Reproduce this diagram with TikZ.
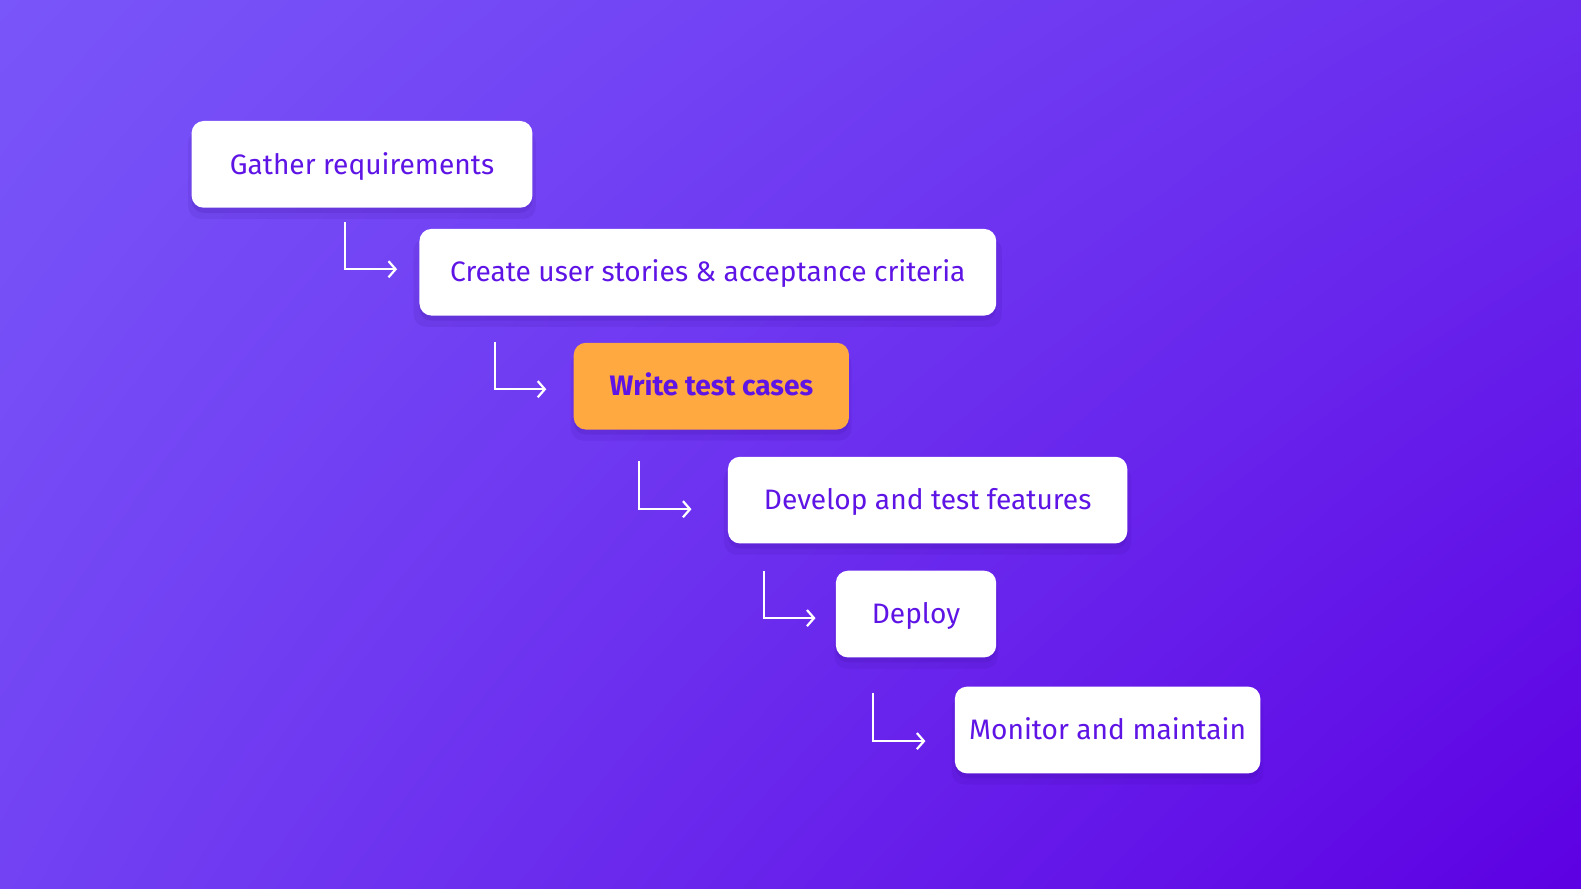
\documentclass[tikz,border=0pt]{standalone}
\usepackage{fontspec}
\setmainfont{Fira Sans}
\usetikzlibrary{arrows.meta,shadows,calc,shadings}
\definecolor{bgTL}{HTML}{7956F9}
\definecolor{bgTR}{HTML}{6A2DEE}
\definecolor{bgBL}{HTML}{7242F3}
\definecolor{bgBR}{HTML}{5D00E3}
\definecolor{txt}{HTML}{5F14E6}
\definecolor{orng}{HTML}{FFA940}
\definecolor{shd}{HTML}{3A0A90}
\tikzset{
  stepbox/.style={draw=none, fill=white, rounded corners=12pt, minimum height=86pt,
    inner sep=0pt, text=txt, font=\fontsize{27.9}{32}\selectfont,
    text height=19.2pt, text depth=0pt,
    general shadow={fill=shd, opacity=0.10, shadow xshift=0pt, shadow yshift=-10pt, shadow scale=1.02},
    general shadow={fill=shd, opacity=0.14, shadow xshift=0pt, shadow yshift=-5pt}},
  hibox/.style={stepbox, fill=orng, font=\fontsize{27.9}{32}\selectfont\bfseries},
  flow/.style={draw=white, line width=2.2pt, -{Straight Barb[length=7pt,width=16pt]}}
}
\begin{document}
\begin{tikzpicture}[x=1pt,y=-1pt]
\useasboundingbox (0,0) rectangle (1568,880.7);
\shade[upper left=bgTL, upper right=bgTR, lower left=bgBL, lower right=bgBR] (0,0) rectangle (1568,880.7);

\node[stepbox, minimum width=338pt] (a) at (359,163) {Gather requirements};
\node[stepbox, minimum width=572pt] (b) at (702,270) {Create user stories \& acceptance criteria};
\node[hibox, minimum width=273pt] (c) at (705.5,383) {Write test cases};
\node[stepbox, minimum width=396pt] (d) at (920,496) {Develop and test features};
\node[stepbox, minimum width=159pt] (e) at (908.5,609) {Deploy};
\node[stepbox, minimum width=303pt] (f) at (1098.5,724) {Monitor and maintain};

\coordinate (s1) at (342,220);
\coordinate (s2) at (491,339);
\coordinate (s3) at (634,457);
\coordinate (s4) at (758,566);
\coordinate (s5) at (866,687);

\draw[flow] (s1) |- ($(b.west)+(-22,-3)$);
\draw[flow] (s2) |- ($(c.west)+(-27,3)$);
\draw[flow] (s3) |- ($(d.west)+(-36,9)$);
\draw[flow] (s4) |- ($(e.west)+(-20,4)$);
\draw[flow] (s5) |- ($(f.west)+(-29,11)$);
\end{tikzpicture}
\end{document}
